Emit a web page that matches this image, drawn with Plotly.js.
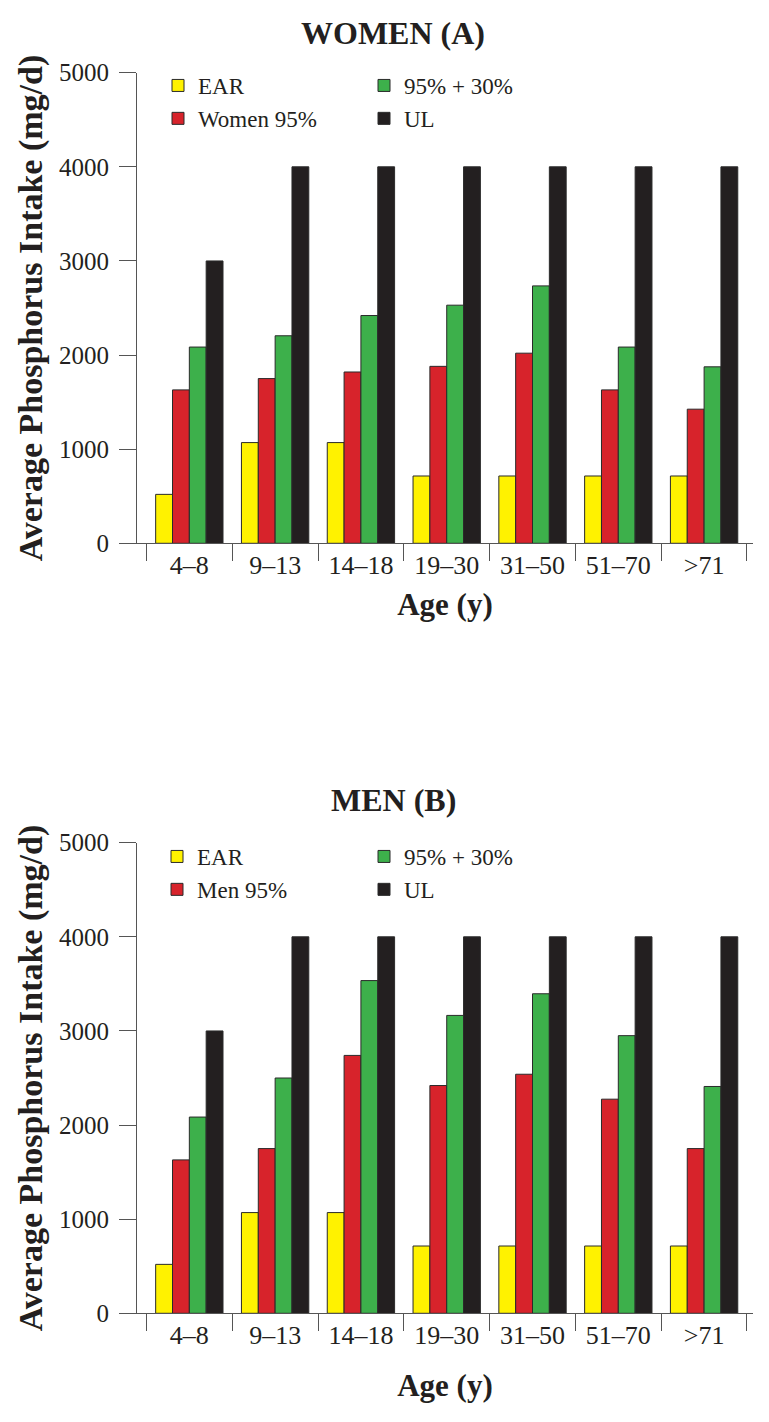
<!DOCTYPE html>
<html>
<head>
<meta charset="utf-8">
<script src="https://cdn.plot.ly/plotly-3.0.1.min.js"></script>
<style>html,body{margin:0;padding:0;background:#fff;}</style>
</head>
<body>
<div id="chart" style="width:769px;height:1422px;"></div>
<script>
// ---- data ----
const ageGroups = ['4–8', '9–13', '14–18', '19–30', '31–50', '51–70', '>71'];
const earValues = [520, 1070, 1070, 715, 715, 715, 715];
const women95 = [1630, 1750, 1820, 1880, 2020, 1630, 1425];
const women95plus30 = [2085, 2205, 2420, 2530, 2735, 2085, 1875];
const men95 = [1630, 1750, 2740, 2420, 2540, 2275, 1750];
const men95plus30 = [2085, 2500, 3535, 3165, 3395, 2950, 2410];
const ulValues = [3000, 4000, 4000, 4000, 4000, 4000, 4000];
const yTicks = [0, 1000, 2000, 3000, 4000, 5000];

// ---- layout helpers ----
const W = 769, H = 1422;
const M = {l: 137, r: 16, t: 10, b: 10};
const PW = W - M.l - M.r, PH = H - M.t - M.b;
const py = p => (H - M.b - p) / PH;      // pixel y -> paper y
const px = p => (p - M.l) / PW;          // pixel x -> paper x

const FONT = "'Liberation Serif', 'Times New Roman', serif";
const INK = '#231f20';
const AXIS = '#555555';
const COLORS = {ear: '#fff200', p95: '#d7232b', p130: '#3db04b', ul: '#231f20'};

function bar(name, x, y, color, xa, ya, legend) {
  return {
    type: 'bar', name: name, x: x, y: y,
    xaxis: xa, yaxis: ya, legend: legend,
    marker: {color: color, line: {color: '#2a2a2a', width: 1}},
    hoverinfo: 'x+y+name'
  };
}

const data = [
  bar('EAR', ageGroups, earValues, COLORS.ear, 'x', 'y', 'legend'),
  bar('Women 95%', ageGroups, women95, COLORS.p95, 'x', 'y', 'legend'),
  bar('95% + 30%', ageGroups, women95plus30, COLORS.p130, 'x', 'y', 'legend2'),
  bar('UL', ageGroups, ulValues, COLORS.ul, 'x', 'y', 'legend2'),
  bar('EAR', ageGroups, earValues, COLORS.ear, 'x2', 'y2', 'legend3'),
  bar('Men 95%', ageGroups, men95, COLORS.p95, 'x2', 'y2', 'legend3'),
  bar('95% + 30%', ageGroups, men95plus30, COLORS.p130, 'x2', 'y2', 'legend4'),
  bar('UL', ageGroups, ulValues, COLORS.ul, 'x2', 'y2', 'legend4')
];

function xAxis(anchor, titleStandoff) {
  return {
    type: 'category', anchor: anchor, domain: [0, 1],
    range: [-0.61, 6.57], fixedrange: true,
    showline: true, linecolor: AXIS, linewidth: 1,
    ticks: 'outside', tickson: 'boundaries', ticklen: 17, tickcolor: AXIS, tickwidth: 1,
    ticklabelstandoff: -2,
    tickfont: {family: FONT, size: 26, color: INK},
    showgrid: false, zeroline: false,
    title: {text: 'Age (y)', font: {family: FONT, size: 31, color: INK, weight: 'bold'}, standoff: titleStandoff}
  };
}
function yAxis(anchor, dom) {
  return {
    anchor: anchor, domain: dom, range: [0, 5000], fixedrange: true,
    tickmode: 'array', tickvals: yTicks, ticktext: yTicks.map(String),
    showline: true, linecolor: AXIS, linewidth: 1,
    ticks: 'outside', ticklen: 17, tickcolor: AXIS, tickwidth: 1,
    ticklabelstandoff: 5,
    tickfont: {family: FONT, size: 25, color: INK},
    showgrid: false, zeroline: false,
    title: {text: 'Average Phosphorus Intake (mg/d)', font: {family: FONT, size: 34, color: INK, weight: 'bold'}, standoff: 6}
  };
}
function legend(xPix, topPix) {
  return {
    x: px(xPix), y: py(topPix), xanchor: 'left', yanchor: 'top',
    orientation: 'v', bgcolor: 'rgba(0,0,0,0)', borderwidth: 0,
    font: {family: FONT, size: 23, color: INK},
    itemclick: false, itemdoubleclick: false
  };
}

const layout = {
  width: W, height: H,
  margin: M,
  paper_bgcolor: '#ffffff', plot_bgcolor: '#ffffff',
  barmode: 'group', bargap: 0.215, bargroupgap: 0,
  showlegend: true,
  font: {family: FONT, color: INK},
  xaxis: xAxis('y', 14),
  yaxis: yAxis('x', [py(543.3), py(72.7)]),
  xaxis2: xAxis('y2', 25),
  yaxis2: yAxis('x2', [py(1313.3), py(842.7)]),
  legend: legend(158, 64),
  legend2: legend(364, 64),
  legend3: legend(157, 835),
  legend4: legend(364, 835),
  annotations: [
    {text: '<b>WOMEN (A)</b>', xref: 'paper', yref: 'paper', x: px(393), y: py(33),
     xanchor: 'center', yanchor: 'middle', showarrow: false,
     font: {family: FONT, size: 32, color: INK}},
    {text: '<b>MEN (B)</b>', xref: 'paper', yref: 'paper', x: px(393), y: py(800),
     xanchor: 'center', yanchor: 'middle', showarrow: false,
     font: {family: FONT, size: 32, color: INK}}
  ]
};

Plotly.newPlot('chart', data, layout, {displayModeBar: false, staticPlot: true});
</script>
</body>
</html>
